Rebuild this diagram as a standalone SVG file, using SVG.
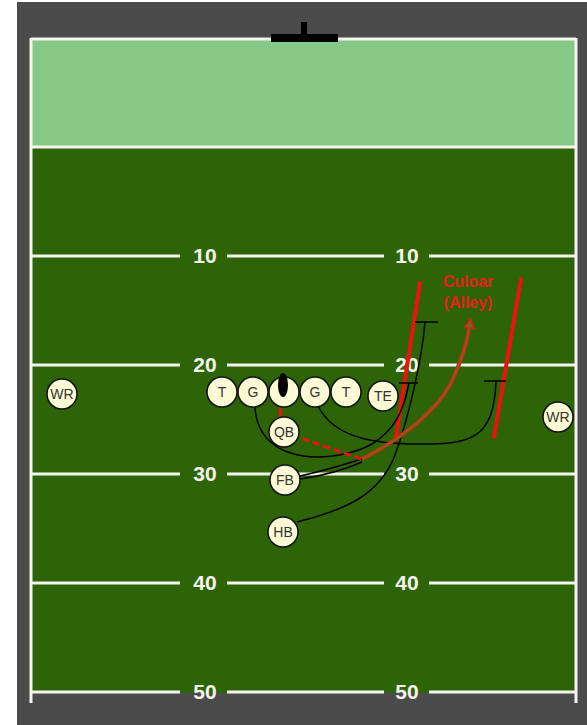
<svg xmlns="http://www.w3.org/2000/svg" width="587" height="725" viewBox="0 0 587 725">
<style>
.yl{stroke:#f4f4ec;stroke-width:3;fill:none}
.num{font-family:"Liberation Sans",Arial,sans-serif;font-weight:bold;font-size:21px;fill:#f4f4ec;text-anchor:middle}
.pl{fill:#fdfbd6;stroke:#111;stroke-width:1.5}
.lbl{font-family:"Liberation Sans",Arial,sans-serif;font-size:14px;fill:#333;text-anchor:middle}
.rt{fill:none;stroke:#000;stroke-width:1.5}
.alley{stroke:#ee1111;stroke-width:4;fill:none;stroke-linecap:round}
</style>
<defs>
<marker id="hollow" viewBox="0 0 10 10" refX="6" refY="5" markerWidth="3" markerHeight="3" orient="auto" markerUnits="strokeWidth">
<path d="M1,1 L9,5 L1,9 Z" fill="#8a5a1a" stroke="#d02010" stroke-width="1.2"/>
</marker>
</defs>
<rect x="0" y="0" width="587" height="725" fill="#ffffff"/>
<rect x="17" y="2" width="570" height="723" fill="#4b4b4b"/>
<g id="field">
<rect x="31" y="39" width="545" height="108" fill="#86c986"/>
<rect x="31" y="147" width="545" height="546" fill="#2d6408"/>
<line class="yl" x1="31" y1="39" x2="576" y2="39"/>
<line class="yl" x1="31" y1="147" x2="576" y2="147"/>
<line class="yl" x1="31" y1="38" x2="31" y2="703"/>
<line class="yl" x1="576" y1="38" x2="576" y2="703"/>
<rect x="271" y="34" width="67" height="8" fill="#000"/>
<rect x="301" y="22" width="6" height="13" fill="#000"/>
</g>
<g id="yardlines">
<path class="yl" d="M31,256H180M227,256H384M429,256H576"/>
<text class="num" x="205" y="263">10</text><text class="num" x="407" y="263">10</text>
<path class="yl" d="M31,365H180M227,365H384M429,365H576"/>
<text class="num" x="205" y="372">20</text><text class="num" x="407" y="372">20</text>
<path class="yl" d="M31,474H180M227,474H384M429,474H576"/>
<text class="num" x="205" y="481">30</text><text class="num" x="407" y="481">30</text>
<path class="yl" d="M31,583H180M227,583H384M429,583H576"/>
<text class="num" x="205" y="590">40</text><text class="num" x="407" y="590">40</text>
<path class="yl" d="M31,692H180M227,692H384M429,692H576"/>
<text class="num" x="205" y="699">50</text><text class="num" x="407" y="699">50</text>
</g>
<g id="alley">
<line class="alley" x1="420" y1="283" x2="396" y2="437"/>
<line class="alley" x1="521" y1="279" x2="494" y2="437"/>
<text x="468" y="287" font-family="Liberation Sans,Arial,sans-serif" font-weight="bold" font-size="16" fill="#e8201a" text-anchor="middle">Culoar</text>
<text x="468" y="308" font-family="Liberation Sans,Arial,sans-serif" font-weight="bold" font-size="16" fill="#e8201a" text-anchor="middle">(Alley)</text>
</g>
<g id="connectors">
<path class="rt" d="M255,408 C260,470 340,462 372,444 C395,430 404,410 409,383"/>
<line class="rt" x1="399" y1="383" x2="418" y2="383"/>
<path class="rt" d="M318,406 C335,440 380,444 420,444 C470,444 494,440 496,381"/>
<line class="rt" x1="484" y1="381" x2="506" y2="381"/>
<path class="rt" d="M297,522 C345,510 380,495 395,455 C408,420 422,360 425,322"/>
<line class="rt" x1="415" y1="322" x2="438" y2="322"/>
<path class="rt" d="M300,479 Q335,474 362,462"/>
<path class="rt" d="M300,476 Q336,468 370,456"/>
<path d="M280,408 L283,433 L292,435" fill="none" stroke="#ee1111" stroke-width="3"/>
<line x1="292" y1="435" x2="364" y2="460" stroke="#ee1111" stroke-width="3" stroke-dasharray="7,4"/>
<path d="M362,459 C400,440 435,412 450,385 C462,360 468,340 470,322" fill="none" stroke="#d02a10" stroke-width="4" marker-end="url(#hollow)"/>
<path d="M362,459 C400,440 435,412 450,385 C462,360 468,340 470,322" fill="none" stroke="#8b5a1e" stroke-width="1.8"/>
</g>
<g id="WR_left"><circle class="pl" cx="62" cy="394" r="15"/><text class="lbl" x="62" y="399">WR</text></g>
<g id="T_left"><circle class="pl" cx="222" cy="392" r="15"/><text class="lbl" x="222" y="397">T</text></g>
<g id="G_left"><circle class="pl" cx="253" cy="392" r="15"/><text class="lbl" x="253" y="397">G</text></g>
<g id="C"><circle class="pl" cx="284" cy="392" r="15"/><ellipse cx="283" cy="385" rx="5" ry="12" fill="#000"/></g>
<g id="G_right"><circle class="pl" cx="315" cy="392" r="15"/><text class="lbl" x="315" y="397">G</text></g>
<g id="T_right"><circle class="pl" cx="346" cy="392" r="15"/><text class="lbl" x="346" y="397">T</text></g>
<g id="TE"><circle class="pl" cx="383" cy="396" r="15"/><text class="lbl" x="383" y="401">TE</text></g>
<g id="WR_right"><circle class="pl" cx="558" cy="417" r="15"/><text class="lbl" x="558" y="422">WR</text></g>
<g id="QB"><circle class="pl" cx="284" cy="432" r="15"/><text class="lbl" x="284" y="437">QB</text></g>
<g id="FB"><circle class="pl" cx="285" cy="480" r="15"/><text class="lbl" x="285" y="485">FB</text></g>
<g id="HB"><circle class="pl" cx="283" cy="532" r="15"/><text class="lbl" x="283" y="537">HB</text></g>
</svg>
